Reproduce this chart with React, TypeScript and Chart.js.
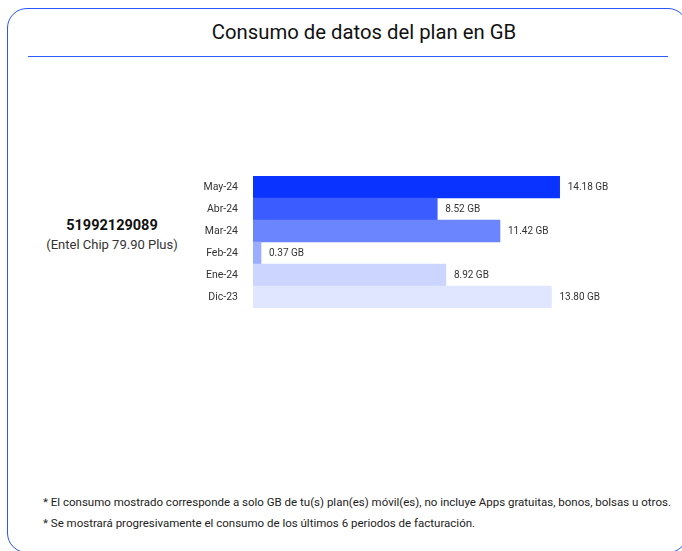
import React, { useEffect, useRef } from "react";
import { Chart, registerables } from "chart.js";

Chart.register(...registerables);

const categories = ["May-24", "Abr-24", "Mar-24", "Feb-24", "Ene-24", "Dic-23"];
const values = [14.18, 8.52, 11.42, 0.37, 8.92, 13.8];
const barColors = ["#0a33ff", "#3b5cff", "#6b85ff", "#9aadff", "#ccd5ff", "#e0e6ff"];
const title = "Consumo de datos del plan en GB";
const lineNumber = "51992129089";
const planName = "(Entel Chip 79.90 Plus)";
const notes = [
  "* El consumo mostrado corresponde a solo GB de tu(s) plan(es) móvil(es), no incluye Apps gratuitas, bonos, bolsas u otros.",
  "* Se mostrará progresivamente el consumo de los últimos 6 periodos de facturación.",
];

const FONT = "Roboto, 'Noto Sans', sans-serif";

const valueLabels = {
  id: "valueLabels",
  afterDatasetsDraw(chart: any) {
    const ctx = chart.ctx;
    const meta = chart.getDatasetMeta(0);
    ctx.save();
    ctx.font = `10px ${FONT}`;
    ctx.fillStyle = "#333";
    ctx.textBaseline = "middle";
    ctx.textAlign = "left";
    meta.data.forEach((bar: any, i: number) => {
      ctx.fillText(values[i].toFixed(2) + " GB", bar.x + 8, bar.y);
    });
    ctx.restore();
  },
};

export default function App() {
  const ref = useRef<HTMLCanvasElement>(null);
  useEffect(() => {
    const chart = new Chart(ref.current!, {
      type: "bar",
      data: {
        labels: categories,
        datasets: [
          {
            data: values,
            backgroundColor: barColors,
            borderWidth: 0,
            barPercentage: 1,
            categoryPercentage: 1,
          },
        ],
      },
      options: {
        indexAxis: "y",
        animation: false,
        responsive: false,
        maintainAspectRatio: false,
        layout: { padding: { top: 21, bottom: 22, right: 61, left: 0 } },
        plugins: { legend: { display: false }, tooltip: { enabled: false } },
        scales: {
          x: { display: false, min: 0, max: 16 },
          y: {
            grid: { display: false },
            border: { display: false },
            ticks: {
              color: "#333",
              font: { family: FONT, size: 10.5 },
              padding: 7,
            },
            afterFit(scale: any) {
              scale.width = 113;
              scale.paddingTop = 0;
              scale.paddingBottom = 0;
            },
          },
        },
      },
      plugins: [valueLabels],
    });
    return () => chart.destroy();
  }, []);

  return (
    <div
      style={{
        position: "fixed",
        left: 0,
        top: 0,
        width: 682,
        height: 551,
        overflow: "hidden",
        background: "#fff",
        fontFamily: FONT,
        color: "#222",
      }}
    >
      <div
        style={{
          position: "absolute",
          left: 7,
          top: 8,
          width: 681,
          height: 545,
          border: "1.5px solid #2a55ff",
          borderRadius: 20,
          boxSizing: "border-box",
        }}
      />
      <div
        style={{
          position: "absolute",
          left: 164,
          width: 400,
          top: 19,
          textAlign: "center",
          fontSize: 20.3,
          lineHeight: "26px",
          color: "#111",
        }}
      >
        {title}
      </div>
      <div
        style={{
          position: "absolute",
          left: 28,
          width: 640,
          top: 56,
          height: 0,
          borderTop: "1.5px solid #2f5cff",
        }}
      />
      <div
        style={{
          position: "absolute",
          left: 12,
          width: 200,
          top: 216,
          textAlign: "center",
          fontSize: 14.5,
          fontWeight: 700,
          lineHeight: "20px",
          color: "#111",
        }}
      >
        {lineNumber}
      </div>
      <div
        style={{
          position: "absolute",
          left: 12,
          width: 200,
          top: 236,
          textAlign: "center",
          fontSize: 13,
          lineHeight: "18px",
          color: "#333",
        }}
      >
        {planName}
      </div>
      <canvas
        ref={ref}
        width={520}
        height={175}
        style={{ position: "absolute", left: 140, top: 155, width: 520, height: 175 }}
      />
      {notes.map((n, i) => (
        <div
          key={i}
          style={{
            position: "absolute",
            left: 43,
            top: 494 + i * 21,
            fontSize: 11.5,
            lineHeight: "16px",
            color: "#222",
            whiteSpace: "nowrap",
          }}
        >
          {n}
        </div>
      ))}
    </div>
  );
}
